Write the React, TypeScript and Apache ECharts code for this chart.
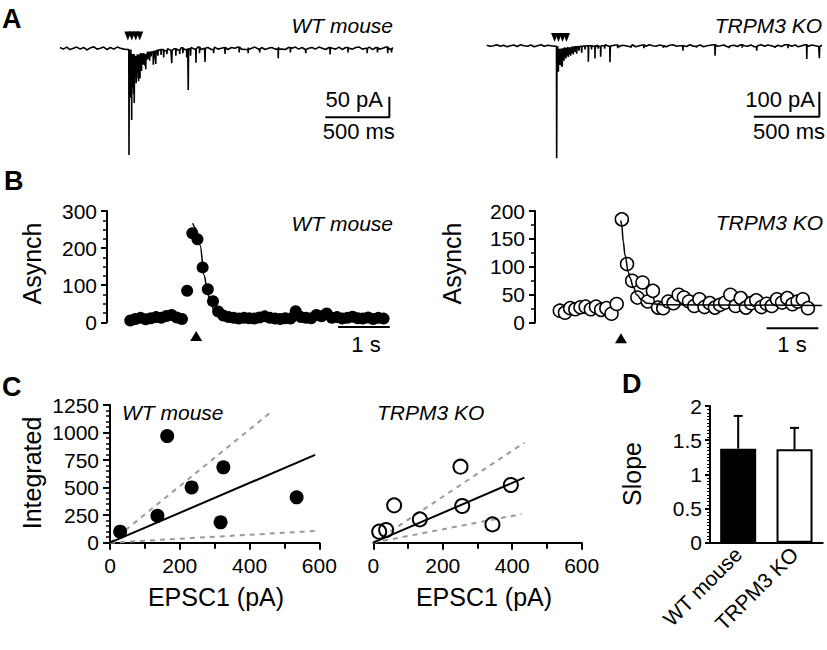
import React, { useEffect, useRef } from "react";
import * as echarts from "echarts";

const FONT = "'Liberation Sans', Arial, Helvetica, sans-serif";

// ---------------- Panel A: example current traces ----------------
const traceSpanWT = 2600; // ms
const baselineWT = [
  2, -2, 3, -3, 0, 3, -2, 2, -4, 1, 4, -2, 0, 3, -3, 2, -2, 3, 0, -2,
  -3, -14, -18, -15, -12, -14, -10, -9, -6, -5,
  -3, -6, -1, -5, -1, -4, 1, -3, -1, 2,
  -2, 3, -3, 0, 2, -3, 3, -2, 0, 2,
  -3, 2, 0, 3, -2, -3, 2, 0, 3, -2,
  2, -3, 0, 2, -2, 3, -2, -3, 2, 0,
  3, -2, 2, -3, 0, 2, -2, 3, 0, -3,
  2, 0, -2, 3, -3, 2, 0, -2, 2, 3,
  -2, 0, 3, -3, 2, -2, 0, 3, -2, 2,
];
const eventsWT = [
  [539, -259], [545, -60], [551, -120], [556, -80], [560, -174], [565, -95], [571, -60],
  [576, -110], [580, -133], [585, -70], [590, -55], [595, -85], [599, -73], [604, -60],
  [609, -45], [614, -80], [619, -50], [625, -73], [631, -45], [637, -55], [644, -35],
  [651, -40], [658, -30], [664, -42], [670, -51], [678, -28], [690, -25], [700, -30],
  [712, -20], [729, -40], [740, -25], [748, -38], [765, -18], [790, -16], [810, -22],
  [835, -14], [873, -36], [905, -18], [935, -14], [960, -12], [990, -22], [1002, -101],
  [1020, -18], [1062, -35], [1090, -12], [1133, -33], [1200, -12], [1290, -14],
  [1400, -10], [1470, -12], [1560, -10], [1705, -24], [1800, -10], [1920, -12],
  [2110, -15], [2250, -10], [2400, -12], [2480, -10], [2560, -12], [2590, -10],
];
const stimWT = [530, 561, 592, 623];
const scaleBarWT = [[2073, -167.5], [2573, -167.5], [2573, -117.5]];

const traceSpanKO = 2560; // ms
const baselineKO = [
  2, -2, 0, 4, -2, 2, -4, 0, 3, -3, 4, 0, -2, 3, -4, 0, 4, -2, 2, 0,
  -2, -12, -10, -8, -7, -6, -4, -3, -2, -1,
  0, -4, 2, -3, 0, 4, -2, 0, 3, -4,
  2, 0, -3, 4, -4, 0, 3, -2, 4, 0,
  -2, 3, 0, -4, 2, 4, -2, 0, 3, -3,
  4, -2, 0, 3, -4, 0, 2, 4, -2, 0,
  3, -4, 0, 2, -3, 4, 0, -2, 3, -4,
  0, 4, -2, 3, 0, -4, 2, -3, 4, 0,
  -2, 3, -4, 0, 4, -2, 3, 0, -3, 2,
];
const eventsKO = [
  [534, -450], [540, -90], [547, -104], [553, -70], [560, -77], [566, -60], [572, -84],
  [577, -84], [584, -55], [590, -60], [598, -45], [605, -51], [613, -40], [623, -45],
  [632, -35], [641, -40], [651, -30], [661, -35], [674, -25], [687, -32], [705, -20],
  [725, -28], [750, -15], [776, -64], [800, -15], [827, -51], [850, -12], [870, -44],
  [900, -12], [941, -66], [1000, -10], [1100, -8], [1200, -10], [1350, -8], [1498, -20],
  [1600, -8], [1743, -40], [1850, -10], [1950, -8], [2061, -20], [2200, -8], [2300, -10],
  [2443, -53], [2539, -50],
];
const stimKO = [518, 548, 579, 609];
const scaleBarKO = [[2039, -284], [2539, -284], [2539, -184]];

// ---------------- Panel B: asynchronous release histograms ----------------
const binWidthB = 0.1; // s
const binStartWT = 0.45;
const asynchWT = [
  5, 9, 12, 8, 11, 14, 12, 17, 20, 13, 9,
  85, 240, 224, 148, 89, 57, 29,
  18, 14, 12, 10, 12, 11, 10, 13, 16, 12, 10, 9, 11, 10, 30, 14, 12, 11, 20, 16,
  24, 12, 14, 10, 12, 15, 11, 10, 13, 9, 12, 10,
];
const fitWT = [
  [1.66, 267], [1.71, 254], [1.8, 208], [1.88, 127], [1.93, 95], [1.99, 55],
  [2.09, 29], [2.19, 17], [2.34, 11], [5.4, 10],
];
const stimBWT = [[1.725, -37]];
const scaleBarBWT = [[4.47, -12.7], [5.47, -12.7]];

const binStartKO = 0.48;
const asynchKO = [
  21.5, 18, 26, 24, 27.6, 28.7, 24, 28.7, 23, 26, 16, 33.5,
  185, 105, 75, 45, 72, 38, 57, 27, 26, 38, 35, 50, 45, 38,
  30, 42, 28, 35, 27, 32, 36, 50, 30, 44, 27, 35, 40, 28, 34, 30, 42, 36, 44, 33, 38, 42, 26,
];
const fitKO = [
  [1.66, 183], [1.677, 175], [1.708, 145], [1.741, 121], [1.805, 91], [1.838, 80],
  [1.902, 64], [1.967, 50], [2.064, 41], [2.16, 35], [2.5, 32], [5.55, 31],
];
const stimBKO = [[1.663, -28]];
const scaleBarBKO = [[4.48, -10], [5.48, -10]];

// ---------------- Panel C: integrated vs EPSC1 ----------------
const epscWT = [29, 136, 164, 234, 325, 317, 535];
const integWT = [100, 245, 968, 502, 684, 185, 412];
const fitCWT = [[0, 0], [588, 797]];
const upperCWT = [[0, 0], [463, 1190]];
const lowerCWT = [[0, 0], [588, 106]];

const epscKO = [17, 37, 60, 134, 251, 256, 343, 396];
const integKO = [100, 115, 339, 212, 690, 333, 166, 524];
const fitCKO = [[0, 0], [435, 590]];
const upperCKO = [[0, 0], [435, 908]];
const lowerCKO = [[0, 0], [427, 260]];

// ---------------- Panel D: slope ----------------
const slopeGroups = ["WT mouse", "TRPM3 KO"];
const slopeMean = [1.376, 1.367];
const slopeErr = [0.479, 0.313];

function buildTrace(baseline: number[], span: number, events: number[][]) {
  const step = span / (baseline.length - 1);
  const pts: number[][] = baseline.map((v, i) => [i * step, v]);
  events.forEach(([t, a]) => {
    const i = Math.min(baseline.length - 1, Math.floor(t / step));
    const b = baseline[i];
    pts.push([t - 1.5, b], [t, a], [t + 2.5, b]);
  });
  pts.sort((p, q) => p[0] - q[0]);
  return pts;
}

const black = "#000";
const axisLabelStyle = {
  color: black, fontSize: 21, fontFamily: FONT,
  formatter: (v: number) => String(v),
};

function valueAxisVisible(gridIndex: number, extra: any) {
  return {
    type: "value",
    gridIndex,
    axisLine: { show: true, onZero: false, lineStyle: { color: black, width: 2 } },
    axisTick: { show: true, inside: false, length: 6, lineStyle: { color: black, width: 2 } },
    minorTick: { show: true, length: 4, lineStyle: { color: black, width: 1.5 } },
    splitLine: { show: false },
    minorSplitLine: { show: false },
    axisLabel: { ...axisLabelStyle, margin: 10 },
    ...extra,
  };
}

function txt(text: string, x: number, y: number, opts: any = {}) {
  return {
    type: "text",
    x,
    y,
    rotation: opts.rotation || 0,
    style: {
      text,
      fill: black,
      fontFamily: FONT,
      fontSize: opts.fontSize || 21,
      fontWeight: opts.fontWeight || "normal",
      fontStyle: opts.fontStyle || "normal",
      align: opts.align || "center",
      verticalAlign: "middle",
    },
  };
}

function buildOption() {
  const hidden = (gridIndex: number, min: number, max: number) => ({
    type: "value", gridIndex, min, max, show: false,
    splitLine: { show: false },
  });
  const lineS = (xi: number, data: any, style: any = {}, z = 2) => ({
    type: "line", xAxisIndex: xi, yAxisIndex: xi, data, showSymbol: false, symbol: "none",
    clip: false, silent: true, z,
    lineStyle: { color: black, width: 2, ...style },
  });

  const series: any[] = [
    // A WT
    lineS(0, buildTrace(baselineWT, traceSpanWT, eventsWT), { width: 1.6 }),
    {
      type: "scatter", xAxisIndex: 0, yAxisIndex: 0, symbol: "triangle", symbolRotate: 180,
      symbolSize: [7, 9], itemStyle: { color: black, opacity: 1 }, clip: false,
      data: stimWT.map((t) => [t, 30]),
    },
    lineS(0, scaleBarWT, { width: 2 }),
    // A KO
    lineS(1, buildTrace(baselineKO, traceSpanKO, eventsKO), { width: 1.6 }),
    {
      type: "scatter", xAxisIndex: 1, yAxisIndex: 1, symbol: "triangle", symbolRotate: 180,
      symbolSize: [7, 9], itemStyle: { color: black, opacity: 1 }, clip: false,
      data: stimKO.map((t) => [t, 33]),
    },
    lineS(1, scaleBarKO, { width: 2 }),
    // B WT
    {
      type: "scatter", xAxisIndex: 2, yAxisIndex: 2, symbol: "circle", symbolSize: 12,
      itemStyle: { color: black, opacity: 1 }, clip: false, z: 2,
      data: asynchWT.map((v, i) => [binStartWT + i * binWidthB, v]),
    },
    { ...lineS(2, fitWT, { width: 1.5 }, 3), smooth: 0.4, smoothMonotone: "x" },
    {
      type: "scatter", xAxisIndex: 2, yAxisIndex: 2, symbol: "triangle", symbolSize: [12, 10],
      itemStyle: { color: black, opacity: 1 }, clip: false, data: stimBWT,
    },
    lineS(2, scaleBarBWT, { width: 2 }),
    // B KO
    {
      type: "scatter", xAxisIndex: 3, yAxisIndex: 3, symbol: "circle", symbolSize: 13,
      itemStyle: { color: "#fff", borderColor: black, borderWidth: 1.5, opacity: 1 }, clip: false, z: 2,
      data: asynchKO.map((v, i) => [binStartKO + i * binWidthB, v]),
    },
    { ...lineS(3, fitKO, { width: 1.5 }, 3), smooth: 0.4, smoothMonotone: "x" },
    {
      type: "scatter", xAxisIndex: 3, yAxisIndex: 3, symbol: "triangle", symbolSize: [12, 10],
      itemStyle: { color: black, opacity: 1 }, clip: false, data: stimBKO,
    },
    lineS(3, scaleBarBKO, { width: 2 }),
    // C WT
    lineS(4, upperCWT, { color: "#9a9a9a", type: [5, 5], width: 2 }),
    lineS(4, lowerCWT, { color: "#9a9a9a", type: [5, 5], width: 2 }),
    lineS(4, fitCWT, { width: 2 }),
    {
      type: "scatter", xAxisIndex: 4, yAxisIndex: 4, symbol: "circle", symbolSize: 14,
      itemStyle: { color: black, opacity: 1 }, clip: false, z: 4,
      data: epscWT.map((x, i) => [x, integWT[i]]),
    },
    // C KO
    lineS(5, upperCKO, { color: "#9a9a9a", type: [5, 5], width: 2 }),
    lineS(5, lowerCKO, { color: "#9a9a9a", type: [5, 5], width: 2 }),
    lineS(5, fitCKO, { width: 2 }),
    {
      type: "scatter", xAxisIndex: 5, yAxisIndex: 5, symbol: "circle", symbolSize: 14,
      itemStyle: { color: "rgba(255,255,255,0)", borderColor: black, borderWidth: 2, opacity: 1 },
      clip: false, z: 4,
      data: epscKO.map((x, i) => [x, integKO[i]]),
    },
    // D
    {
      type: "bar", xAxisIndex: 6, yAxisIndex: 6, barWidth: 36, z: 2,
      data: slopeMean.map((m, i) => ({
        value: m,
        itemStyle: i === 0
          ? { color: black, borderColor: black, borderWidth: 2 }
          : { color: "#fff", borderColor: black, borderWidth: 2 },
      })),
    },
    {
      type: "custom", xAxisIndex: 6, yAxisIndex: 6, z: 3, clip: false,
      data: slopeMean.map((m, i) => [i, m, m + slopeErr[i]]),
      renderItem: (params: any, api: any) => {
        const idx = api.value(0);
        const lo = api.coord([idx, api.value(1)]);
        const hi = api.coord([idx, api.value(2)]);
        return {
          type: "group",
          children: [
            { type: "line", shape: { x1: lo[0], y1: lo[1], x2: hi[0], y2: hi[1] }, style: { stroke: black, lineWidth: 2 } },
            { type: "line", shape: { x1: hi[0] - 4.5, y1: hi[1], x2: hi[0] + 4.5, y2: hi[1] }, style: { stroke: black, lineWidth: 2 } },
          ],
        };
      },
    },
  ];

  const g = (left: number, top: number, width: number, height: number) => ({
    left, top, width, height, containLabel: false, outerBoundsMode: "none",
  });

  return {
    animation: false,
    backgroundColor: "#fff",
    textStyle: { fontFamily: FONT },
    grid: [
      g(60, 27.7, 332.8, 144.2),
      g(486.7, 33.2, 335.4, 137.5),
      g(107, 211, 289.5, 111.3),
      g(535, 211, 289.5, 111.7),
      g(110, 405, 209.3, 137.7),
      g(373.3, 405, 208.4, 137.7),
      g(710, 406, 112.7, 136.7),
    ],
    xAxis: [
      hidden(0, 0, traceSpanWT),
      hidden(1, 0, traceSpanKO),
      hidden(2, 0, 5.6),
      hidden(3, 0, 5.6),
      {
        ...valueAxisVisible(4, { min: 0, max: 600, interval: 200 }),
        axisTick: { show: true, length: 7, lineStyle: { color: black, width: 2 } },
        minorTick: { show: true, splitNumber: 2, length: 6, lineStyle: { color: black, width: 2 } },
        axisLabel: { ...axisLabelStyle, margin: 12 },
      },
      {
        ...valueAxisVisible(5, { min: 0, max: 600, interval: 200 }),
        axisTick: { show: true, length: 7, lineStyle: { color: black, width: 2 } },
        minorTick: { show: true, splitNumber: 2, length: 6, lineStyle: { color: black, width: 2 } },
        axisLabel: { ...axisLabelStyle, margin: 12 },
      },
      {
        type: "category", gridIndex: 6, data: slopeGroups,
        axisLine: { show: true, lineStyle: { color: black, width: 2 } },
        axisTick: { show: false },
        axisLabel: { color: black, fontSize: 21, fontFamily: FONT, rotate: 45, margin: 8 },
      },
    ],
    yAxis: [
      hidden(0, -300, 50),
      hidden(1, -500, 50),
      valueAxisVisible(2, {
        min: 0, max: 300, interval: 100,
        minorTick: { show: true, splitNumber: 4, length: 4, lineStyle: { color: black, width: 1.5 } },
      }),
      valueAxisVisible(3, {
        min: 0, max: 200, interval: 50,
        minorTick: { show: true, splitNumber: 2, length: 4, lineStyle: { color: black, width: 1.5 } },
      }),
      valueAxisVisible(4, {
        min: 0, max: 1250, interval: 250,
        axisTick: { show: true, length: 7, lineStyle: { color: black, width: 2 } },
        minorTick: { show: true, splitNumber: 5, length: 4, lineStyle: { color: black, width: 1.5 } },
        axisLabel: { ...axisLabelStyle, margin: 11 },
      }),
      hidden(5, 0, 1250),
      valueAxisVisible(6, {
        min: 0, max: 2, interval: 0.5,
        axisTick: { show: true, length: 5, lineStyle: { color: black, width: 2 } },
        minorTick: { show: true, splitNumber: 10, length: 3, lineStyle: { color: black, width: 1 } },
        axisLabel: { ...axisLabelStyle, margin: 8 },
      }),
    ],
    series,
    graphic: [
      txt("A", 2, 18.5, { fontSize: 27, fontWeight: "bold", align: "left" }),
      txt("B", 4, 181, { fontSize: 27, fontWeight: "bold", align: "left" }),
      txt("C", 2, 387, { fontSize: 27, fontWeight: "bold", align: "left" }),
      txt("D", 622, 384, { fontSize: 27, fontWeight: "bold", align: "left" }),
      txt("WT mouse", 393, 25, { fontStyle: "italic", align: "right" }),
      txt("TRPM3 KO", 822, 25, { fontStyle: "italic", align: "right" }),
      txt("50 pA", 383, 99.5, { fontSize: 22, align: "right" }),
      txt("500 ms", 358.8, 131, { fontSize: 22 }),
      txt("100 pA", 815, 99.5, { fontSize: 22, align: "right" }),
      txt("500 ms", 789, 131, { fontSize: 22 }),
      txt("WT mouse", 393, 223, { fontStyle: "italic", align: "right" }),
      txt("TRPM3 KO", 823, 222, { fontStyle: "italic", align: "right" }),
      txt("Asynch", 32, 263.5, { fontSize: 25, rotation: Math.PI / 2 }),
      txt("Asynch", 452, 263.5, { fontSize: 25, rotation: Math.PI / 2 }),
      txt("1 s", 366, 344, { fontSize: 22 }),
      txt("1 s", 792, 344, { fontSize: 22 }),
      txt("WT mouse", 122, 412, { fontStyle: "italic", align: "left" }),
      txt("TRPM3 KO", 377, 412, { fontStyle: "italic", align: "left" }),
      txt("Integrated", 32, 473, { fontSize: 25, rotation: Math.PI / 2 }),
      txt("EPSC1 (pA)", 216, 597, { fontSize: 25 }),
      txt("EPSC1 (pA)", 484, 597, { fontSize: 25 }),
      txt("Slope", 632, 474, { fontSize: 25, rotation: Math.PI / 2 }),
    ],
  };
}

export default function App() {
  const ref = useRef<HTMLDivElement>(null);
  useEffect(() => {
    if (!ref.current) return;
    const chart = echarts.init(ref.current, null, { renderer: "svg" });
    chart.setOption(buildOption() as any);
    return () => chart.dispose();
  }, []);
  return (
    <div
      ref={ref}
      style={{ position: "absolute", left: 0, top: 0, width: 827, height: 650, background: "#fff" }}
    />
  );
}
